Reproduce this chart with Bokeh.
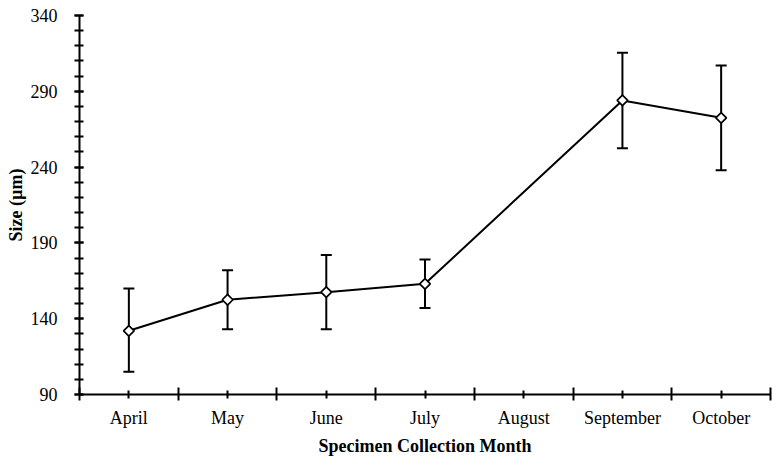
import numpy as np
from bokeh.plotting import figure
from bokeh.models import Range1d, FixedTicker, ColumnDataSource, Whisker, TeeHead
from bokeh.embed import file_html
from bokeh.resources import INLINE

months = ["April", "May", "June", "July", "August", "September", "October"]
mean_size = [132, 152.5, 157.5, 163, None, 284, 272.5]
err_low = [105, 133, 133, 147, None, 252.5, 238]
err_high = [160, 172, 182, 179, None, 315.5, 307]
y_ticks = [90, 140, 190, 240, 290, 340]

FONT = "Liberation Serif"

idx = [i for i, v in enumerate(mean_size) if v is not None]
xs = [i + 0.5 for i in idx]
src = ColumnDataSource(dict(
    x=xs,
    y=[mean_size[i] for i in idx],
    lo=[err_low[i] for i in idx],
    hi=[err_high[i] for i in idx],
))

p = figure(width=774, height=461, output_backend="svg", toolbar_location=None,
           x_range=Range1d(0, len(months)), y_range=Range1d(90, 340),
           min_border_left=79, min_border_right=4, min_border_top=15, min_border_bottom=67)
p.outline_line_color = None
p.xgrid.visible = False
p.ygrid.visible = False
p.background_fill_color = "white"
p.border_fill_color = "white"

# error bars
wh = Whisker(base="x", upper="hi", lower="lo", source=src, dimension="height",
             line_color="black", line_width=2,
             upper_head=TeeHead(size=11, line_color="black", line_width=2),
             lower_head=TeeHead(size=11, line_color="black", line_width=2))
p.add_layout(wh)

p.line("x", "y", source=src, line_color="black", line_width=2)
p.scatter("x", "y", source=src, marker="square", angle=np.pi / 4, size=7.5,
          fill_color="white", line_color="black", line_width=1.7)

# x axis
xa = p.xaxis[0]
xa.ticker = FixedTicker(ticks=[i + 0.5 for i in range(len(months))],
                        minor_ticks=list(range(len(months) + 1)))
xa.major_label_overrides = {i + 0.5: m for i, m in enumerate(months)}
xa.axis_label = "Specimen Collection Month"
xa.axis_line_width = 2
xa.axis_line_color = "black"
xa.major_tick_line_width = 2
xa.minor_tick_line_width = 2
xa.major_tick_in = 4
xa.major_tick_out = 4
xa.minor_tick_in = 7
xa.minor_tick_out = 6
xa.major_label_standoff = 7
xa.axis_label_standoff = 5

# y axis
ya = p.yaxis[0]
ya.ticker = FixedTicker(ticks=y_ticks, minor_ticks=list(range(90, 341, 10)))
ya.axis_label = "Size (µm)"
ya.axis_line_width = 2
ya.axis_line_color = "black"
ya.major_tick_line_width = 2
ya.minor_tick_line_width = 2
ya.major_tick_in = 4
ya.major_tick_out = 5
ya.minor_tick_in = 4
ya.minor_tick_out = 5
ya.major_label_standoff = 17
ya.axis_label_standoff = 2

for ax in (xa, ya):
    ax.major_label_text_font = FONT
    ax.major_label_text_font_size = "18px"
    ax.major_label_text_color = "black"
    ax.axis_label_text_font = FONT
    ax.axis_label_text_font_size = "18px"
    ax.axis_label_text_font_style = "bold"
    ax.axis_label_text_color = "black"

open("out.html", "w").write(file_html(p, INLINE))
